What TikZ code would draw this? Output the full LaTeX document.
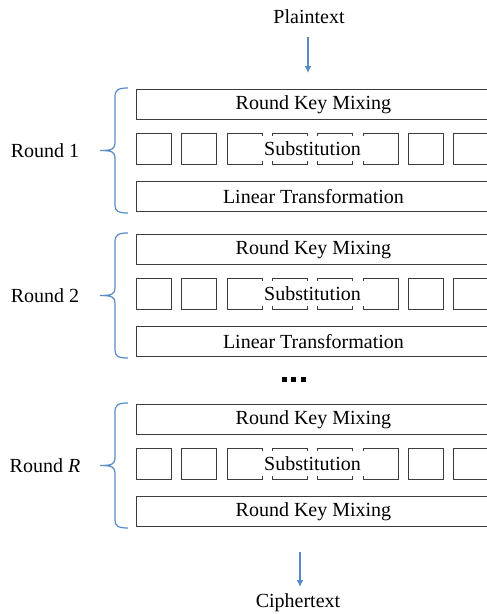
\documentclass[tikz,border=0pt]{standalone}
\usepackage{fontspec}
\setmainfont{Liberation Serif}
\usetikzlibrary{arrows.meta}
\definecolor{braceblue}{RGB}{88,138,198}
\definecolor{boxgray}{RGB}{60,60,60}
\begin{document}
\begin{tikzpicture}[x=1pt,y=-1pt,
  txt/.style={font=\fontsize{20}{22}\selectfont},
  bar/.style={txt,draw=boxgray,line width=0.9pt,minimum width=354pt,minimum height=30pt,inner sep=0pt,anchor=north west},
  sbox/.style={draw=boxgray,line width=0.9pt,minimum width=35pt,minimum height=31pt,inner sep=0pt,anchor=north west},
  subst/.style={txt,fill=white,inner xsep=0pt,inner ysep=0pt,minimum width=107pt,minimum height=25pt},
  brace/.style={draw=braceblue,line width=1.2pt},
  flow/.style={draw=braceblue,line width=1.4pt,-{Latex[length=7pt,width=7pt]}},
  dot/.style={fill=black,draw=none}
]
\useasboundingbox (0,0) rectangle (487,614);
\clip (0,0) rectangle (487,614);
\foreach \r/\y/\lab/\last in {1/89/Round 1/Linear Transformation,2/234/Round 2/Linear Transformation,R/404/Round \textit{R}/Round Key Mixing}{
  \node[bar] (top\r) at (136,\y) {Round Key Mixing};
  \foreach \i in {0,...,7}
    \node[sbox] (s\r\i) at ({136+45.3*\i},\y+44) {};
  \node[subst] (sub\r) at (312.5,\y+59.5) {Substitution};
  \node[bar] (bot\r) at (136,\y+92) {\last};
  \node[txt] (lab\r) at (45,\y+62) {\lab};
  \draw[brace] (128,\y-1) .. controls (118,\y-1) and (115,\y+1) .. (115,\y+8)
     -- (115,\y+54) .. controls (115,\y+60) and (112,\y+61.5) .. (100,\y+61.5)
     .. controls (112,\y+61.5) and (115,\y+63) .. (115,\y+69)
     -- (115,\y+116) .. controls (115,\y+122) and (118,\y+124) .. (128,\y+124);
}
\node[txt] (plain) at (309,17) {Plaintext};
\coordinate (pa) at (308,37);
\coordinate (pb) at (308,73);
\draw[flow] (pa) -- (pb);
\node[txt] (cipher) at (298,603) {Ciphertext};
\coordinate (ca) at (300,552);
\coordinate (cb) at (300,587);
\draw[flow] (ca) -- (cb);
\fill[dot] (282,377) rectangle (287,382);
\fill[dot] (291,377) rectangle (296,382);
\fill[dot] (301,377) rectangle (306,382);
\end{tikzpicture}
\end{document}
